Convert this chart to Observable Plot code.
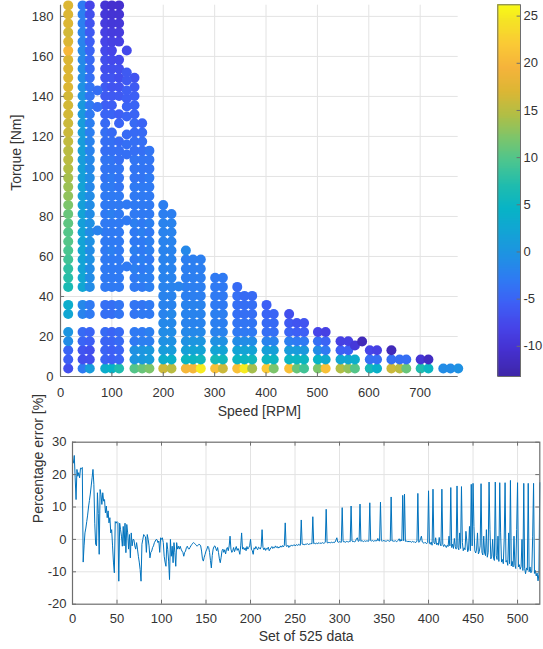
<!DOCTYPE html>
<html><head><meta charset="utf-8">
<script src="https://cdn.jsdelivr.net/npm/d3@7"></script>
<script src="https://cdn.jsdelivr.net/npm/@observablehq/plot@0.6"></script>
<style>
body{margin:0;background:#fff;}
#wrap{position:relative;width:543px;height:649px;overflow:hidden;background:#fff;}
#wrap svg{position:absolute;}
</style></head><body><div id="wrap"></div>
<script>
// ---------- data ----------
const torqueLevels = [4, 8.5, 13.1, 17.6, 22.2, 26.7, 31.2, 35.8, 40.3, 44.8, 49.4, 53.9, 58.5, 63, 67.5, 72.1, 76.6, 81.2, 85.7, 90.2, 94.8, 99.3, 103.9, 108.4, 112.9, 117.5, 122, 126.6, 131.1, 135.6, 140.2, 144.7, 149.3, 153.8, 158.3, 162.9, 167.4, 172, 176.5, 181, 185.5];

const columnSpeeds = [15, 43, 57, 87, 100, 114, 144, 159, 173, 200, 216, 244, 258, 273, 301, 316, 344, 358, 373, 401, 415, 445, 460, 474, 501, 516, 545, 560, 573, 602, 616, 644, 660, 673, 701, 716, 745, 759, 774];

const columnErrors = [
  [-7, -5.5, -5, -1, 0, null, 2.5, 3.5, null, 6.5, 7.5, 8, 9, 9.5, 10, 10, 10.5, 11, 12, 13, 13.5, 14, 14.5, 15, 15, 15.5, 16, 16, 16.5, 16.5, 16.5, 17, 17, 17, 17, 20, 17, 16.5, 17, 17, 17],
  [-3, -7, -6.5, -5, -4.5, null, -2, -1.5, null, 2.5, 2.5, 2, 2, 2.5, 2, 2, 1.5, 2, 1.5, 1.5, 2, 1.5, 1.5, 1, 1.5, 1, 1, 1, 0.5, 0.5, 0, -0.5, -1, -1, -1.5, -1.5, -2, -2, -2.5, -2.5, -3],
  [1, -7, -7, -5.5, -5, null, -3, -3, null, -1, -1, -1, -0.5, -1, -0.5, -1, -0.5, -1, -1, -1, -1.5, -1, -1.5, -1.5, -2, -2, -2.5, -2.5, -3, -3, -3.5, -3.5, -4, -4.5, -4.5, -5, -5.5, -6, -6.5, -7, -8],
  [3.5, -5, -5, -5, -4.5, null, -4, -4, null, -3, -3, -3, -3, -3, -3, -3, -3, -3, -3, -3, -3, -3.5, -3.5, -3.5, -4, -4, -4, -4.5, -5, -5.5, -6, -6, -6.5, -7, -7, -7.5, -8, -8.5, -9, -9.5, -10],
  [4.5, -5.5, -5.5, -5, -5, null, -4, -4, null, -3, -3, -3, -3, -2.5, -3, -3, -3, -2.5, -3, -3, -3, -3, -3.5, -3.5, -4, -4, -4.5, null, -5, -5.5, -6, -6.5, -6.5, -7, -7.5, -8, -8.5, -9, -9.5, -10, -10.5],
  [7, -5, -5, -4.5, -4.5, null, -3.5, -3.5, null, -3, -3, -3, -3, -3, -3, -3, -3, -3, -3, -3, -3.5, -3.5, -3.5, -4, -4, -4.5, null, -5, -5.5, null, -6, -6.5, -7, -7, -7.5, null, -8.5, -9, -9.5, -10, -10.5],
  [10, 0, -0.5, -3, -3, null, -3.5, -3.5, null, -3, -3, -2.5, -3, -2.5, -3, -3, -2.5, -3, -3, -3, -3, -3.5, -3.5, -3.5, -4, -4, -4.5, -4.5, -5, -5, -5.5, -6, -6.5],
  [11, 0.5, 0, -2.5, -3, null, -3, -3.5, null, -3, -2.5, -3, -2.5, -3, -3, -2.5, -3, -3, -3, -3, -3, -3.5, -3.5, -3.5, -4, -4, -4.5, -5],
  [12, 1, 0.5, -2.5, -2.5, null, -3, -3, null, -2.5, -2.5, -2.5, -3, -2.5, -2.5, -3, -2.5, -3, -3, -3, -3, -3, -3.5, -3.5, -3.5],
  [16, 3.5, 1, -0.5, -1, -1.5, -2, -2, -2, -2, -2, -2, -2, -2, -2, -2, -2, -2.5, -2.5],
  [15, 4, 1, -0.5, -1, -1.5, -1.5, -2, -2, -2, -2, -2, -2, -2, -2, -2, -2, -2.5],
  [20, 5, 1.5, -0.5, -1.5, -2, -2, -2, -2.5, -2.5, -2.5, -2.5, -2.5, -1.5],
  [20, 5, 2, 0, -1.5, -2, -2, -2, -2.5, -2.5, -2.5, -2.5, -2.5],
  [25, 5.5, 2, 0, -1.5, -2, -2, -2, -2.5, -2.5, -2.5, -2.5, -2.5],
  [21, 6, 2, -0.5, -2, -2.5, -2.5, -3, -3, -3, -3],
  [16, 5.5, 2, -0.5, -2, -2.5, -2.5, -3, -3, -3, -3],
  [21, 5, 2, -1, -3, -3.5, -4, -4, -4, -4.5],
  [25, 5, 2, -1, -3, -3.5, -4, -4, -4.5],
  [14, 5.5, 2, -1, -3, -3.5, -4, -4, -4.5],
  [22, 5, 1.5, -2, -4, -4.5, -5, -5.5],
  [12, 5, 1.5, -2, -4, -4.5, -5],
  [21, 5, 1, -2.5, -5, -6, -7],
  [11, 5, 1, -3, -5.5, -6.5],
  [9, 5, 0.5, -3, -5.5, -6.5],
  [12, 4.5, -1, -4, -8],
  [21, 3, -3, -5, -8.5],
  [14.5, 2.5, -5.5, -8.5],
  [13, 2.5, -5.5, -8.5],
  [10, 3.5],
  [6, -4, -8],
  [4, -4, -8.5],
  [16, -4, -12],
  [15, -4],
  [11, -4],
  [7, -10],
  [5, -11.5],
  [-1],
  [-1],
  [-0.5]
];

const extraSpeeds  = [72, 72, 72, 129, 129, 129, 129, 129, 129, 129, 129, 129, 129, 129, 129, 129, 230, 573, 587];
const extraTorques = [73, 134.7, 143, 55, 78, 86, 111, 116, 121, 130, 135, 139, 143, 148, 152, 163, 45, 15.5, 17.5];
const extraErrors  = [-2, -4, -4, -3, -3, -3, -4, -4, -4.5, -5, -5, -5.5, -5.5, -6, -6, -7.5, -2, -9.5, -12];

const errorSeries = [
  23.6, 25.9, 19, 12.3, 21.6, 19.5, 20.6, 19, 22, 21.8,
  22.2, -7, -2, 2, 3.5, 5.5, 7.5, 10, 12, 14,
  16.5, 19, 21.6, 17, 5, -1.5, -2, 14.4, 8, -4.6,
  15.4, 13.9, 10.8, 14.4, 11.8, 12.3, 8.2, 10.3, 6.7, 8.8,
  5.1, 6.7, 2, 3, -2, -7, -10.3, 5.5, 5, 5.5,
  5.2, -12.9, 5, 3, 1, -2.1, 4, -2, 5, -4.1,
  4.6, 2, -3, 1.5, -5.7, 2, -2, 0, -0.1, -2,
  -3, -1, -3, -5.2, -7, -9.3, -12.9, -1.5, 0, 1.5,
  1, 0.8, -4, 1.5, 0, -2, -5.7, -4, -3.6, -2.5,
  -2, -1, -0.5, 0, -0.1, -1, -0.5, -4, 0.5, 0,
  0.5, -1, -5.2, -7, -8.3, -1, -3.1, -6.7, -12.4, 0,
  -5.2, -2.1, -7.2, -1, -4, -8.3, -1, -3, -2.1, -3,
  -2.1, -3, -3.6, -4, -5.2, -4, -3.6, -2.5, -2.1, -2.8,
  -3, -2.5, -2, -1.6, -1.2, -1, -1.2, -1.5, -1.8, -2.1,
  -1.8, -1.5, -1.6, -2, -3.6, -6, -6.7, -5.5, -4.6, -3.6,
  -3, -2.1, -2.5, -4, -6.5, -8.8, -5, -3, -2.2, -2,
  -2.8, -3.5, -2.5, -4, -6, -7.2, -5.5, -3.5, -3, -4,
  -3.2, -4.5, -3, -2.5, -3.5, -2, 1, -3, -4, -3.5,
  -2.5, -3.8, -3, -2.2, -3.4, -2.8, -3.5, -4.6, -2, 2,
  -3, -2.5, -3.2, -2.6, -3.5, -2.2, -3, -2.5, -2, 0,
  -3, -3.5, -4.6, -2.6, -3, -2.2, -2.8, -3.2, -2.4, -2.6,
  -3, -2.2, 3, -2.5, -3.2, -2.6, -3.4, -2.8, -3, -2.4,
  -3.5, -3, -2.6, -2.2, -2.8, -2.4, -2.6, -2, -2.5, -2.2,
  -2.7, -2.3, -2.5, -2, -2.4, -1.9, -2.3, -1.8, 5.1, -2,
  -2.2, -1.8, -2.5, -2, -2.1, -1.7, -2, -1.9, -1.6, -2,
  -1.8, -1.6, -1.9, -1.5, -1.7, -1.8, 6, -1.4, -1.6, -1.5,
  -1.7, -1.4, -1.5, -1.3, -1.6, -1.4, -1.5, -1.2, -1.4, 7,
  -1.3, -1.2, -1.4, -1.1, -1.3, -1.2, -1, -1.3, -1.1, -1.2,
  -1, -1.2, -1.1, -0.9, 9.3, -1, -1.1, -0.9, -1, -1.1,
  -0.8, -1, -0.9, -1, -0.8, -0.2, 0.5, -0.8, -0.9, -0.7,
  -0.8, -0.9, 9.8, -0.6, -0.8, -0.7, -0.9, -0.6, -0.7, -0.8,
  -0.6, -0.7, 10.3, -0.5, -0.7, -0.6, -0.8, -0.5, 0.2, 0.5,
  -0.6, -0.5, 10.9, -0.6, -0.4, -0.5, -0.7, -0.4, -0.6, -0.5,
  -0.4, -0.6, -0.5, 11.3, -0.4, -0.5, -0.3, -0.6, -0.4, -0.5,
  -0.3, -0.5, 0.3, -0.4, -0.5, 11.5, -0.4, -0.6, -0.3, -0.5,
  -0.4, -0.6, -0.5, -0.3, -0.4, -0.6, -0.5, 13.1, -0.5, -0.4,
  -0.6, -0.5, -0.4, -0.7, -0.5, -0.3, 0.2, -0.6, 0, -0.5,
  13.6, -0.4, 14, -0.6, -0.5, -0.7, -0.5, -0.8, -0.6, -0.7,
  -0.9, -0.6, -0.8, -0.7, -1, -0.8, -0.6, 14.2, -0.9, -0.7,
  0.2, 1, -0.8, -1, -1.2, -0.9, -1.1, -1.3, -1, 15,
  -1.2, -1.5, -0.8, -1.8, 15.5, -1, -1.4, 0.5, -1.6, -1.2,
  -1.8, 0.6, -1.4, -2, 15.5, -1.5, -2.2, -1.6, -2, -2.5,
  -1.8, -2.2, 1, -2, 16, -2.5, -1.5, -2.8, 0.3, -2.2,
  -3, 16.5, -2.5, -3.2, 2, -2.8, 16.3, -1, -3.5, -2.6,
  -3.2, 2.5, -0.5, -3.8, -3, 4, -3.5, 17, -2, 17.3,
  4, -3.5, -4.2, -3, 2, -4.5, -3.8, -2, 17.2, -4,
  -4.8, 1, -4.2, -5, 3, -5.5, -4, 17.7, 3, -6,
  -5.2, 0, -5.8, -6.5, 17.7, -5, -6.2, 1, -6.8, 17.5,
  2, -7, -6.2, -7.5, 0, 17.5, -7, -6.5, -8, 2,
  -7.5, 18.2, -8.2, -6.8, -8.5, 1, -8, -9, 3, 17.5,
  -8.5, -7.8, -9.2, -8.4, 0, -9.6, 17.3, -9, -10.6, -8.8,
  -9.5, 17.3, -10, -8.5, -10.3, -9.8, 1, 17.3, -10.5, -9.6,
  -11.3, -10.4, -12.8, -10.8, 17.5
];

const speedTicks  = [0, 100, 200, 300, 400, 500, 600, 700];
const torqueTicks = [0, 20, 40, 60, 80, 100, 120, 140, 160, 180];
const colorTicks  = [-10, -5, 0, 5, 10, 15, 20, 25];
const indexTicks  = [0, 50, 100, 150, 200, 250, 300, 350, 400, 450, 500];
const errorTicks  = [-20, -10, 0, 10, 20, 30];

// parula-like colormap stops
const parulaValues = [-13.2, -10.5, -8, -5.5, -3, -0.5, 2, 4.5, 7, 9.5, 12, 14.5, 17, 19.5, 22, 24.5, 26.2];
const parulaColors = ["#3e26a8", "#4530cf", "#4644e8", "#3d5ff5", "#2f7af3", "#1f91e3", "#13a3d5", "#07b3c6", "#1fbcae", "#4ac590", "#7cc56b", "#b1be45", "#dcb634", "#f5b33b", "#fac935", "#f5e424", "#f9fb15"];

// ---------- build ----------
const points = [];
columnSpeeds.forEach((s, c) => {
  columnErrors[c].forEach((e, k) => {
    if (e !== null) points.push({speed: s, torque: torqueLevels[k], err: e});
  });
});
extraSpeeds.forEach((s, i) => points.push({speed: s, torque: extraTorques[i], err: extraErrors[i]}));

const font = "'Liberation Sans', Arial, Helvetica, sans-serif";
const textColor = "#333333";
const axisColor = "#6e6e6e";
const gridColor = "#e3e3e3";
const colorSpec = {type: "linear", domain: parulaValues, range: parulaColors, interpolate: "rgb"};
const baseStyle = {fontFamily: font, fontSize: "13px", color: textColor, background: "transparent", overflow: "visible"};
const wrap = document.getElementById("wrap");

const topPlot = Plot.plot({
  width: 470, height: 425,
  marginLeft: 60, marginRight: 12.3, marginTop: 4.7, marginBottom: 49,
  style: baseStyle,
  x: {domain: [0, 774], ticks: speedTicks, tickSize: 0, tickPadding: 11, tickFormat: d => String(d), label: null},
  y: {domain: [0, 185.6], ticks: torqueTicks, tickSize: 0, tickPadding: 7, tickFormat: d => String(d), label: null},
  color: colorSpec,
  marks: [
    Plot.ruleX(speedTicks.slice(1), {stroke: gridColor}),
    Plot.ruleY(torqueTicks.slice(1), {stroke: gridColor}),
    Plot.dot(points, {x: "speed", y: "torque", fill: "err", r: 5}),
    Plot.ruleY([0], {stroke: axisColor, strokeWidth: 1.2}),
    Plot.ruleX([0], {stroke: axisColor, strokeWidth: 1.2}),
    Plot.ruleX(speedTicks, {y1: 0, y2: 2, stroke: axisColor}),
    Plot.ruleY(torqueTicks, {x1: 0, x2: 8, stroke: axisColor}),
    Plot.text(["Torque [Nm]"], {text: d => d, frameAnchor: "left", rotate: -90, dx: -44, fontSize: 14}),
    Plot.text(["Speed [RPM]"], {text: d => d, frameAnchor: "bottom", lineAnchor: "middle", dy: 35, fontSize: 14})
  ]
});
topPlot.style.left = "0px"; topPlot.style.top = "0px";
wrap.appendChild(topPlot);

const rampValues = d3.range(-13.2, 26.2, 0.1);
const colorbar = Plot.plot({
  width: 46, height: 380,
  marginLeft: 0.3, marginRight: 23, marginTop: 4.3, marginBottom: 4,
  style: baseStyle,
  x: {domain: [0, 1], axis: null},
  y: {domain: [-13.2, 26.2], axis: "right", ticks: colorTicks, tickSize: 0, tickPadding: 3, tickFormat: d => String(d), label: null},
  color: colorSpec,
  marks: [
    Plot.rect(rampValues, {x1: 0, x2: 1, y1: d => d, y2: d => Math.min(d + 0.35, 26.2), fill: d => d + 0.05, shapeRendering: "crispEdges"}),
    Plot.ruleY(colorTicks, {x1: 0.85, x2: 1, stroke: axisColor}),
    Plot.frame({stroke: axisColor})
  ]
});
colorbar.style.left = "497px"; colorbar.style.top = "0px";
wrap.appendChild(colorbar);

const bottomPlot = Plot.plot({
  width: 543, height: 224,
  marginLeft: 72, marginRight: 3.7, marginTop: 16.7, marginBottom: 45.3,
  style: baseStyle,
  x: {domain: [0, 525], ticks: indexTicks, tickSize: 0, tickPadding: 10, tickFormat: d => String(d), label: null},
  y: {domain: [-20, 30], ticks: errorTicks, tickSize: 0, tickPadding: 6, tickFormat: d => String(d), label: null},
  marks: [
    Plot.ruleX(indexTicks.slice(1), {stroke: gridColor}),
    Plot.ruleY(errorTicks.slice(1, -1), {stroke: gridColor}),
    Plot.line(errorSeries, {x: (d, i) => i + 1, y: d => d, stroke: "#0072bd", strokeWidth: 1}),
    Plot.frame({stroke: axisColor, strokeWidth: 1.2}),
    Plot.ruleX(indexTicks, {y1: -20, y2: -18.77, stroke: axisColor}),
    Plot.ruleX(indexTicks, {y1: 30, y2: 28.77, stroke: axisColor}),
    Plot.ruleY(errorTicks, {x1: 0, x2: 4.5, stroke: axisColor}),
    Plot.ruleY(errorTicks, {x1: 525, x2: 520.5, stroke: axisColor}),
    Plot.text(["Percentage error [%]"], {text: d => d, frameAnchor: "left", rotate: -90, dx: -34, fontSize: 14}),
    Plot.text(["Set of 525 data"], {text: d => d, frameAnchor: "bottom", lineAnchor: "middle", dy: 32.5, fontSize: 14})
  ]
});
bottomPlot.style.left = "0px"; bottomPlot.style.top = "425px";
wrap.appendChild(bottomPlot);
</script>
</body></html>
